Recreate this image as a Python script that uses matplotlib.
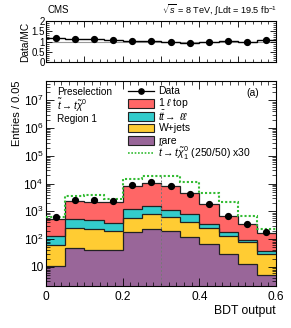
import numpy as np
import matplotlib
matplotlib.use("Agg")
import matplotlib.pyplot as plt
from matplotlib.lines import Line2D
from matplotlib.patches import Rectangle

plt.rcParams['font.family'] = ['Liberation Sans', 'DejaVu Sans']
plt.rcParams['mathtext.fontset'] = 'custom'
plt.rcParams['mathtext.rm'] = 'Liberation Sans'
plt.rcParams['mathtext.it'] = 'Liberation Sans:italic'
plt.rcParams['mathtext.sf'] = 'Liberation Sans'

# ---- data ----
bin_edges = [0.0, 0.05, 0.10, 0.15, 0.20, 0.25, 0.30, 0.35, 0.40, 0.45, 0.50, 0.55, 0.60]
data = [630, 2650, 2500, 2300, 8700, 11000, 8200, 4360, 1900, 710, 365, 174]
ratio = [1.16, 1.10, 1.10, 1.07, 1.03, 1.02, 0.98, 0.95, 1.00, 1.02, 1.00, 1.05]
# cumulative stack tops
stack_total = [545, 2400, 2270, 2150, 8450, 10800, 8370, 4590, 1900, 690, 350, 167]   # 1 l top on top
stack_ttll = [130, 550, 510, 395, 1200, 1520, 1160, 830, 365, 182, 91, 36]
stack_wjets = [60, 260, 240, 200, 600, 790, 615, 415, 250, 126, 79, 29]
rare = [10.9, 48, 42, 40, 183, 230, 190, 120, 66, 29, 13, 4.9]
signal_x30 = [620, 3550, 4000, 2900, 14300, 19000, 19000, 11400, 4600, 2100, 680, 240]

legend_labels = ["Data", r"1 $\ell$ top", r"$t\bar{t}\!\rightarrow\ \ell\ell$", "W+jets", "rare",
                 r"$\tilde{t}\rightarrow t\tilde{\chi}^0_1$ (250/50) x30"]
colors = ["#FF6666", "#33CCCC", "#FFCC33", "#996699"]
sig_color = "#33BB33"

W, H = 291, 328
fig = plt.figure(figsize=(W / 100, H / 100), dpi=100)

def ax_rect(l, t, r, b):
    return [l / W, 1 - b / H, (r - l) / W, (b - t) / H]

def fx(x):
    return x / W

def fy(y):
    return 1 - y / H

ax = fig.add_axes(ax_rect(46, 81, 276, 285.7))
axr = fig.add_axes(ax_rect(46, 21, 276, 62))

edges = np.array(bin_edges)
centers = 0.5 * (edges[:-1] + edges[1:])
base = 0.1
for vals, c in zip([stack_total, stack_ttll, stack_wjets, rare], colors):
    ax.stairs(vals, edges, baseline=base, fill=True, color=c, zorder=1)
    ax.stairs(vals, edges, baseline=None, color="#222222", lw=0.9, zorder=2)
ax.stairs(signal_x30, edges, baseline=None, color=sig_color, lw=1.5, ls=(0, (1, 1)), zorder=3)
ax.vlines(0.3, base, 2e4, colors="#777777", lw=0.7, ls=(0, (2, 2)), zorder=4)
ax.plot(centers, data, 'o', color='black', ms=4.2, zorder=5)

ax.set_yscale('log')
ax.set_xlim(0, 0.6)
ax.set_ylim(2.1, 5e7)
ax.set_xticks([0, 0.2, 0.4, 0.6])
ax.set_xticklabels(["0", "0.2", "0.4", "0.6"])
ax.set_xticks(np.arange(0, 0.601, 0.02), minor=True)
ax.set_yticks([10, 1e2, 1e3, 1e4, 1e5, 1e6, 1e7])
ax.set_yticklabels(["10", r"$10^2$", r"$10^3$", r"$10^4$", r"$10^5$", r"$10^6$", r"$10^7$"])
ax.tick_params(which='both', direction='in', top=True, right=True, labelsize=8.6)
ax.tick_params(which='major', length=6, width=0.6)
ax.tick_params(which='minor', length=3, width=0.5)
ax.tick_params(axis='x', pad=4)
ax.tick_params(axis='y', pad=2)
ax.set_xlabel("BDT output", fontsize=8.8, loc='right', labelpad=1)
ax.set_ylabel("Entries / 0.05", fontsize=8, loc='top', labelpad=1)

# manual legend
box_l, box_r, text_x = 127.5, 154, 158.5
rows = [90.7, 103.3, 116.3, 127.8, 140.5, 153.0]
fig.add_artist(Line2D([fx(box_l), fx(box_r)], [fy(rows[0]), fy(rows[0])], color='black', lw=0.9,
                      transform=fig.transFigure))
fig.add_artist(Line2D([fx((box_l + box_r) / 2)], [fy(rows[0])], color='black', marker='o', ms=3.8,
                      lw=0, transform=fig.transFigure))
for c, yy in zip(colors, rows[1:5]):
    fig.add_artist(Rectangle((fx(box_l), fy(yy + 4.2)), fx(box_r - box_l), 8.4 / H, facecolor=c,
                             edgecolor='#222222', lw=0.8, transform=fig.transFigure))
fig.add_artist(Line2D([fx(box_l), fx(box_r)], [fy(rows[5]), fy(rows[5])], color=sig_color, lw=1.2,
                      ls=(0, (1, 1)), transform=fig.transFigure))
for lab, yy in zip(legend_labels, rows):
    fig.text(fx(text_x), fy(yy), lab, fontsize=7.5, va='center', ha='left')

fig.text(fx(57), fy(91.5), "Preselection", fontsize=7.2, va='center')
fig.text(fx(57), fy(104.5), r"$\tilde{t}\rightarrow t\tilde{\chi}^0$", fontsize=7.2, va='center')
fig.text(fx(57), fy(119), "Region 1", fontsize=7.2, va='center')
fig.text(fx(252.5), fy(93.3), "(a)", fontsize=7.5, va='center', ha='center')

# ratio panel
axr.axhline(1.0, color='#999999', lw=0.8, zorder=1)
axr.stairs(ratio, edges, baseline=None, color='black', lw=1.0, zorder=2)
axr.plot(centers, ratio, 'o', color='black', ms=4.2, zorder=3)
axr.set_xlim(0, 0.6)
axr.set_ylim(0, 2)
axr.set_yticks([0, 0.5, 1, 1.5, 2])
axr.set_yticklabels(["0", "0.5", "1", "1.5", "2"])
axr.set_yticks(np.arange(0, 2.01, 0.1), minor=True)
axr.set_xticks([0, 0.1, 0.2, 0.3, 0.4, 0.5, 0.6])
axr.set_xticks(np.arange(0, 0.601, 0.02), minor=True)
axr.tick_params(which='both', direction='in', top=True, right=True, labelsize=7, labelbottom=False)
axr.tick_params(which='major', length=4, width=0.6, pad=1)
axr.tick_params(which='minor', length=2, width=0.5)
axr.set_ylabel("Data/MC", fontsize=7.3, labelpad=1)

fig.text(fx(48), fy(10), "CMS", fontsize=7, va='center')
fig.text(fx(277), fy(10), r"$\sqrt{s}$ = 8 TeV, $\int$Ldt = 19.5 fb$^{-1}$", fontsize=6.6,
         va='center', ha='right')

fig.savefig("out.png", dpi=100)
